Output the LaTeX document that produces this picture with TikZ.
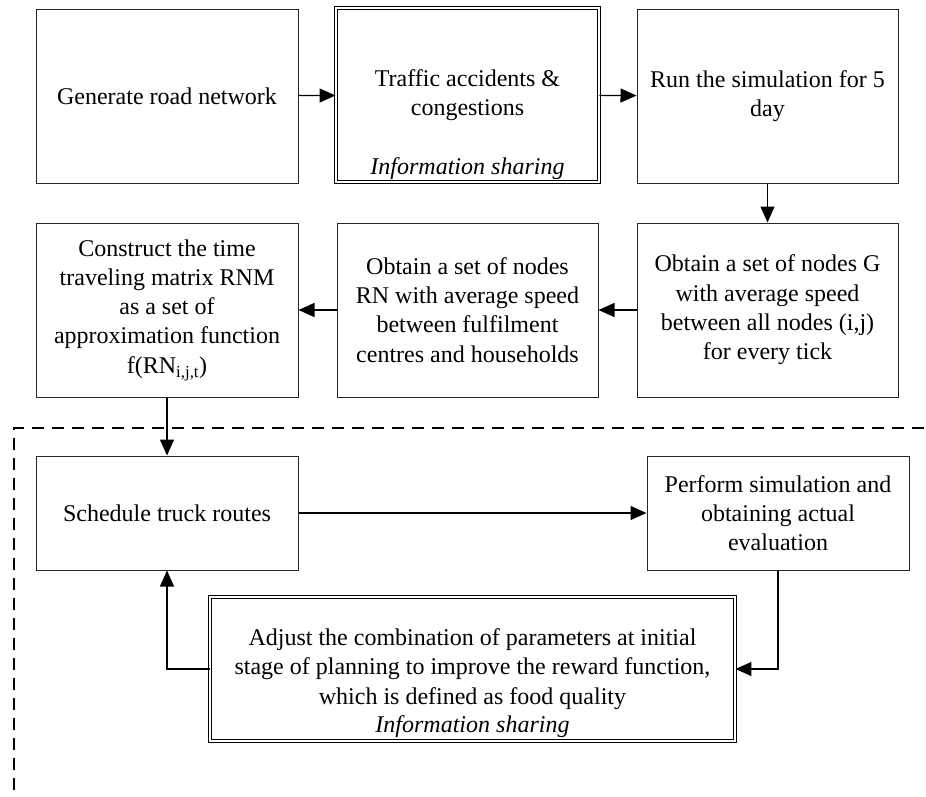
\documentclass[tikz,border=0pt]{standalone}
\usepackage{fontspec}
\setmainfont{Liberation Serif}
\usetikzlibrary{arrows.meta}

\begin{document}
\begin{tikzpicture}[x=1pt, y=-1pt,
  box/.style={draw=black!85, line width=1pt, rectangle, inner sep=2pt, align=center,
    font=\fontsize{24}{29.3}\selectfont},
  dbox/.style={box, double, double distance=1.6pt, line width=0.9pt, draw=black},
  note/.style={anchor=base, inner sep=0pt, font=\fontsize{24}{29.3}\selectfont\itshape},
  flow/.style={draw, line width=1.3pt, arrows=-{Triangle[length=16pt,width=14pt]}}]
  \useasboundingbox (0,0) rectangle (926,796);
  % first row
  \node[box, minimum width=262, minimum height=174] (gen) at (167,96) {Generate road network};
  \node[dbox, minimum width=263, minimum height=174] (acc) at (467.5,95) {Traffic accidents \&\\congestions};
  \node[note] (accinfo) at ([yshift=8]acc.south) {Information sharing};
  \node[box, minimum width=261, minimum height=174] (run) at (767.5,96) {Run the simulation for 5\\day};
  % second row
  \node[box, minimum width=261, minimum height=174] (nodesG) at (767.5,310) {Obtain a set of nodes G\\with average speed\\between all nodes (i,j)\\for every tick};
  \node[box, minimum width=261, minimum height=174] (nodesRN) at (467.5,310) {Obtain a set of nodes\\RN with average speed\\between fulfilment\\centres and households};
  \node[box, minimum width=262, minimum height=174] (rnm) at (167,310) {Construct the time\\traveling matrix RNM\\as a set of\\approximation function\\f(RN\textsubscript{i,j,t})};
  % planning loop
  \draw[line width=1.5pt, dash pattern=on 12pt off 8pt] (14,790) -- (14,428) -- (926,428);
  \node[box, minimum width=262, minimum height=114] (sched) at (167,513) {Schedule truck routes};
  \node[box, minimum width=262, minimum height=114] (perf) at (778,513) {Perform simulation and\\obtaining actual\\evaluation};
  \node[dbox, minimum width=525, minimum height=144] (adjust) at (472.5,669) {Adjust the combination of parameters at initial\\stage of planning to improve the reward function,\\which is defined as food quality};
  \node[note] (adjinfo) at ([yshift=9]adjust.south) {Information sharing};
  % connectors
  \path[flow] (gen) -- (acc);
  \path[flow] (acc) -- (run);
  \path[flow] (run) -- (nodesG);
  \path[flow] (nodesG) -- (nodesRN);
  \path[flow] (nodesRN) -- (rnm);
  \path[flow] (rnm) -- (sched);
  \path[flow] (sched) -- (perf);
  \path[flow] (perf.south) |- (adjust.east);
  \path[flow] (adjust.west) -| (sched.south);
\end{tikzpicture}
\end{document}
